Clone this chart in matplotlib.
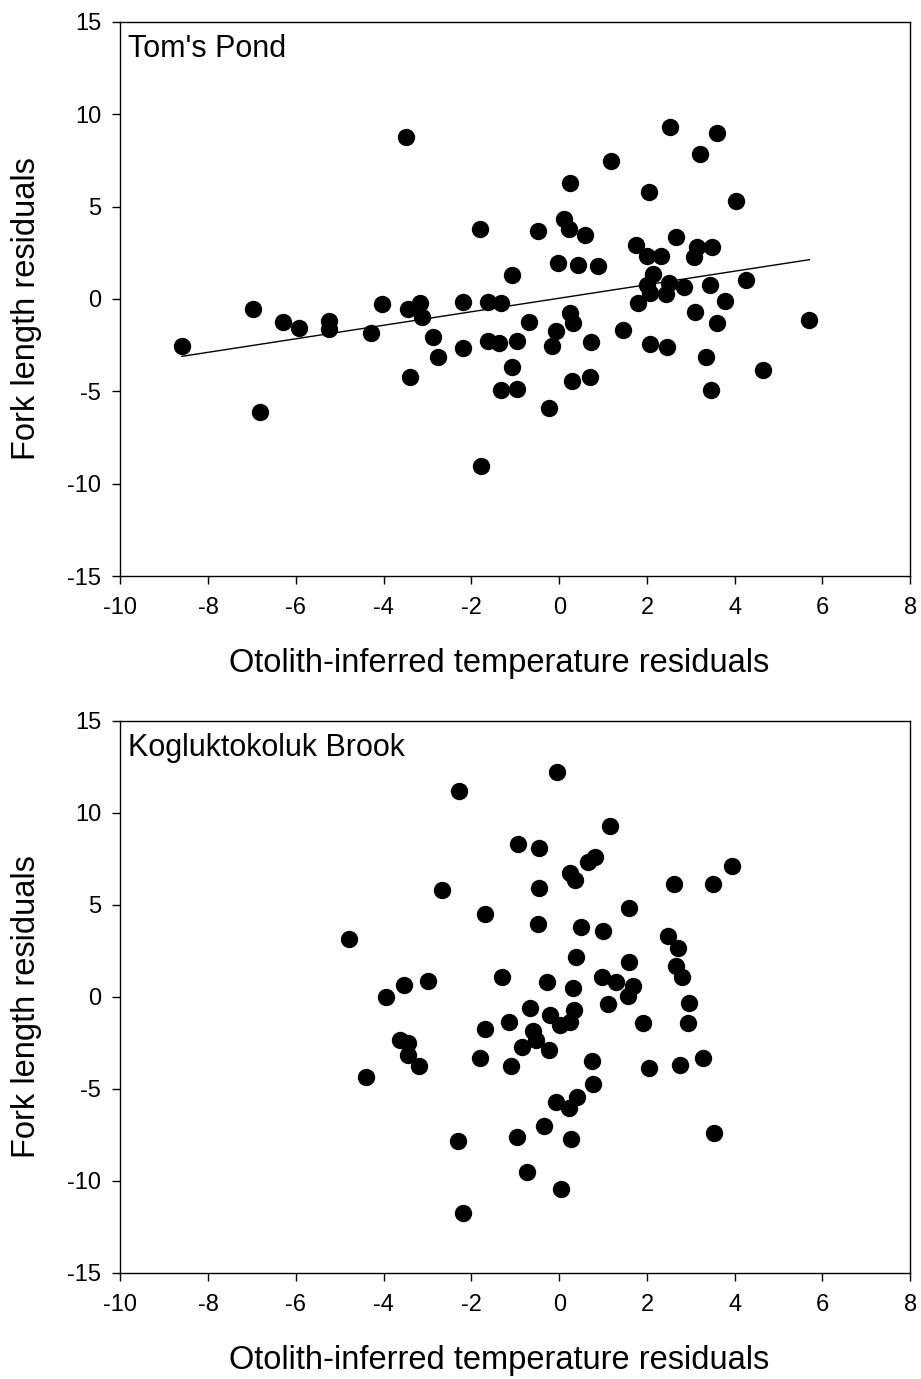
"""Fork length vs otolith-inferred temperature residuals, two sites."""

import matplotlib
matplotlib.use("Agg")
import matplotlib.pyplot as plt
import numpy as np

plt.rcParams["font.family"] = ["Liberation Sans", "DejaVu Sans"]
plt.rcParams["axes.unicode_minus"] = False

# Tom's Pond
toms_x = [-8.60, -6.98, -6.82, -6.30, -5.93, -5.25, -5.25, -4.29, -4.04, -3.45,
          -3.17, -3.13, -2.88, -2.76, -3.40, -3.49, -2.19, -2.19, -1.80, -1.78,
          -1.62, -1.32, -1.62, -1.37, -1.07, -1.32, -0.96, -1.07, -0.96, -0.69,
          -0.48, -0.23, -0.16, -0.07, -0.03, 0.11, 0.23, 0.25, 0.25, 0.32,
          0.29, 0.43, 0.59, 0.73, 0.70, 0.89, 1.18, 1.45, 1.75, 1.80,
          2.01, 2.05, 2.07, 2.01, 2.07, 2.14, 2.32, 2.44, 2.46, 2.50,
          2.53, 2.67, 2.85, 3.08, 3.10, 3.15, 3.21, 3.35, 3.44, 3.46,
          3.49, 3.60, 3.60, 3.78, 4.03, 4.26, 4.65, 5.70]
toms_y = [-2.54, -0.54, -6.12, -1.25, -1.57, -1.19, -1.62, -1.84, -0.27, -0.54,
          -0.22, -0.97, -2.06, -3.14, -4.22, 8.77, -0.16, -2.65, 3.79, -9.04,
          -0.16, -0.22, -2.27, -2.38, -3.68, -4.93, -4.87, 1.30, -2.27, -1.25,
          3.68, -5.90, -2.54, -1.73, 1.95, 4.33, 3.79, 6.28, -0.76, -1.30,
          -4.44, 1.84, 3.47, -2.33, -4.22, 1.79, 7.47, -1.68, 2.92, -0.22,
          2.33, 5.79, 0.32, 0.76, -2.44, 1.35, 2.33, 0.27, -2.60, 0.87,
          9.31, 3.36, 0.65, 2.27, -0.70, 2.82, 7.85, -3.14, 0.76, -4.93,
          2.82, 8.99, -1.30, -0.11, 5.31, 1.03, -3.84, -1.14]

# Kogluktokoluk Brook
kog_x = [-2.28, -0.05, 1.16, -0.94, -0.46, 0.82, 0.66, 0.25, 0.36, 3.94,
         2.62, 3.51, -0.46, -2.67, -1.69, 1.59, -4.79, -0.48, 0.50, 1.00,
         2.48, 2.71, 0.39, 1.59, 2.67, 2.80, -1.30, -2.99, -3.54, -3.95,
         -0.28, 0.32, 0.98, 1.30, 1.68, 1.57, 1.11, 2.96, 2.94, 1.91,
         -0.66, -0.21, 0.34, 0.02, 0.25, -1.14, -1.69, -0.59, -0.53, -0.85,
         -0.23, -1.80, -1.10, 0.75, 2.76, 3.28, -3.63, -3.45, -3.45, -3.19,
         -4.40, 0.77, 2.05, 0.41, -0.07, 0.23, -0.34, -0.96, 0.27, -0.73,
         0.04, 3.53, -2.31, -2.19]
kog_y = [11.20, 12.23, 9.29, 8.32, 8.10, 7.61, 7.34, 6.74, 6.36, 7.12,
         6.14, 6.14, 5.92, 5.82, 4.51, 4.84, 3.15, 3.97, 3.80, 3.59,
         3.32, 2.66, 2.17, 1.90, 1.68, 1.09, 1.09, 0.87, 0.65, 0.00,
         0.82, 0.49, 1.09, 0.82, 0.60, 0.05, -0.38, -0.33, -1.41, -1.41,
         -0.60, -0.98, -0.71, -1.52, -1.36, -1.36, -1.74, -1.85, -2.34, -2.72,
         -2.88, -3.32, -3.75, -3.48, -3.70, -3.32, -2.34, -2.50, -3.15, -3.75,
         -4.35, -4.73, -3.86, -5.43, -5.71, -6.03, -7.01, -7.61, -7.72, -9.51,
         -10.43, -7.39, -7.83, -11.74]

x_ticks = [-10, -8, -6, -4, -2, 0, 2, 4, 6, 8]
y_ticks = [-15, -10, -5, 0, 5, 10, 15]


def draw_panel(ax, x, y, title, fit=False):
    ax.plot(x, y, "o", color="black", markersize=12.5, markeredgewidth=0)
    if fit:
        slope, intercept = np.polyfit(x, y, 1)
        xs = np.array([min(x), max(x)])
        ax.plot(xs, slope * xs + intercept, color="black", lw=1)
    ax.set_xlim(-10, 8)
    ax.set_ylim(-15, 15)
    ax.set_xticks(x_ticks)
    ax.set_yticks(y_ticks)
    ax.tick_params(direction="out", length=6, width=1, labelsize=17,
                   top=False, right=False)
    ax.tick_params(axis="x", pad=9)
    ax.tick_params(axis="y", pad=8)
    ax.set_xlabel("Otolith-inferred temperature residuals", fontsize=23.5, labelpad=21)
    ax.xaxis.label.set_x(0.48)
    ax.set_ylabel("Fork length residuals", fontsize=23.5)
    ax.yaxis.set_label_coords(-0.0994, 0.482)
    ax.text(0.01, 0.978, title, transform=ax.transAxes, fontsize=22,
            ha="left", va="top")
    for spine in ax.spines.values():
        spine.set_linewidth(1)


fig = plt.figure(figsize=(9.21, 13.79), dpi=100)
ax_top = fig.add_axes([0.1308, 0.5823, 0.8575, 0.4018])
ax_bot = fig.add_axes([0.1308, 0.0769, 0.8575, 0.4003])

draw_panel(ax_top, toms_x, toms_y, "Tom's Pond", fit=True)
draw_panel(ax_bot, kog_x, kog_y, "Kogluktokoluk Brook")

fig.savefig("out.png", dpi=100)
